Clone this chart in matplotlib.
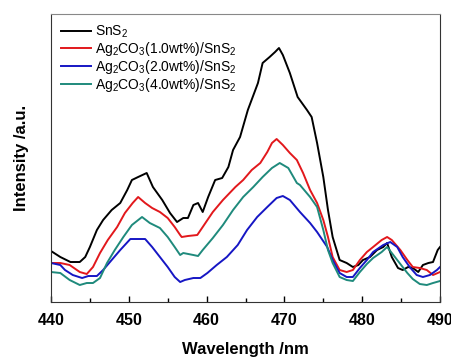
import numpy as np
import matplotlib
matplotlib.use("Agg")
import matplotlib.pyplot as plt
from matplotlib.ticker import MultipleLocator

plt.rcParams["font.family"] = ["Liberation Sans", "DejaVu Sans"]
plt.rcParams["mathtext.fontset"] = "custom"
plt.rcParams["mathtext.rm"] = "Liberation Sans"
plt.rcParams["mathtext.it"] = "Liberation Sans:italic"
plt.rcParams["mathtext.bf"] = "Liberation Sans:bold"

# ── data (intensity in arbitrary units) ─────────────────────────────────────
wl_sns2 = [440.0, 441.2, 442.5, 443.7, 444.4, 445.0, 445.9, 446.7, 447.8, 448.9,
           449.8, 450.4, 451.2, 452.3, 453.1, 454.3, 455.3, 456.2, 457.0, 457.6,
           458.3, 458.9, 459.5, 460.2, 461.1, 462.0, 462.8, 463.4, 464.3, 465.3,
           466.6, 467.2, 468.1, 468.8, 469.3, 469.8, 470.7, 471.7, 472.9, 473.5,
           474.2, 475.0, 475.6, 476.2, 477.1, 478.0, 478.8, 479.5, 480.1, 481.0,
           481.9, 482.7, 483.2, 483.8, 484.6, 485.2, 485.9, 486.5, 487.2, 487.8,
           488.5, 489.1, 489.7, 490.0]
int_sns2 = [51, 45, 40, 40, 45, 55, 72, 82, 92, 99,
            112, 122, 125, 129, 115, 102, 89, 80, 84, 84,
            97, 99, 90, 105, 122, 124, 135, 152, 165, 192,
            219, 239, 245, 250, 254, 247, 229, 205, 192, 185,
            159, 125, 92, 65, 42, 39, 35, 37, 42, 45,
            52, 55, 59, 45, 34, 32, 35, 34, 30, 37,
            39, 40, 52, 55]

wl_ag1 = [440.0, 441.2, 442.4, 443.7, 444.6, 445.4, 446.3, 447.3, 448.5, 449.5,
          450.5, 451.2, 452.1, 453.0, 454.0, 455.0, 455.9, 456.6, 456.8, 457.6,
          458.8, 459.5, 460.8, 462.1, 463.7, 464.7, 465.8, 466.9, 467.8, 468.4,
          469.0, 469.8, 470.7, 471.6, 472.4, 473.3, 474.2, 475.0, 475.6, 476.2,
          477.1, 478.0, 478.8, 479.7, 480.6, 481.4, 482.5, 483.2, 483.8, 484.9,
          485.8, 486.5, 487.4, 488.3, 489.1, 490.0]
int_ag1 = [39, 39, 37, 30, 28, 35, 49, 62, 75, 89,
           99, 105, 99, 94, 90, 84, 75, 67, 65, 66,
           67, 75, 90, 102, 115, 122, 132, 139, 150, 159,
           163, 157, 149, 142, 129, 112, 99, 82, 65, 45,
           32, 30, 32, 42, 50, 55, 62, 65, 62, 52,
           42, 35, 34, 32, 27, 30]

wl_ag2 = [440.0, 441.2, 441.8, 442.8, 444.0, 444.8, 445.9, 446.7, 447.8, 448.9,
          450.2, 451.1, 452.1, 453.0, 454.0, 455.0, 455.9, 456.6, 457.2, 458.3,
          459.2, 460.1, 461.3, 462.6, 464.0, 465.2, 466.5, 467.8, 469.0, 469.8,
          470.7, 472.0, 473.3, 474.2, 475.5, 476.2, 477.1, 478.0, 478.8, 479.7,
          480.6, 481.4, 482.7, 483.6, 484.5, 485.2, 486.1, 487.0, 487.8, 488.7,
          489.6, 490.0]
int_ag2 = [39, 37, 32, 27, 24, 26, 26, 32, 42, 52,
           63, 63, 63, 55, 45, 35, 25, 20, 22, 24,
           24, 29, 37, 45, 57, 72, 85, 95, 104, 106,
           102, 90, 79, 70, 55, 42, 29, 25, 25, 34,
           42, 50, 57, 60, 55, 45, 35, 27, 25, 27,
           32, 35]

wl_ag4 = [440.0, 441.2, 442.4, 443.7, 444.6, 445.4, 446.3, 447.2, 448.2, 449.3,
          450.4, 451.7, 452.7, 454.0, 455.0, 455.9, 456.6, 457.0, 458.3, 458.9,
          459.5, 460.8, 462.1, 463.4, 464.7, 466.0, 467.2, 468.4, 469.4, 470.5,
          471.6, 472.0, 473.3, 474.2, 475.0, 475.6, 476.2, 477.1, 478.0, 478.8,
          479.7, 480.6, 481.4, 482.5, 483.2, 483.8, 484.9, 485.8, 486.5, 487.4,
          488.3, 489.1, 490.0]
int_ag4 = [30, 29, 22, 17, 19, 19, 24, 39, 52, 65,
           77, 85, 79, 74, 65, 55, 47, 49, 47, 46,
           52, 64, 77, 92, 105, 115, 125, 134, 139, 134,
           119, 117, 105, 95, 72, 52, 39, 25, 22, 21,
           30, 38, 44, 50, 55, 49, 38, 29, 23, 18,
           17, 19, 21]

labels = ["SnS$_2$",
          "Ag$_2$CO$_3$(1.0wt%)/SnS$_2$",
          "Ag$_2$CO$_3$(2.0wt%)/SnS$_2$",
          "Ag$_2$CO$_3$(4.0wt%)/SnS$_2$"]
colors = ["#000000", "#e2181c", "#1616c4", "#1f8a7c"]

# ── figure ──────────────────────────────────────────────────────────────────
fig = plt.figure(figsize=(4.52, 3.58), dpi=100)
ax = fig.add_axes([0.1128, 0.1564, 0.8607, 0.8045])

series = [(wl_sns2, int_sns2), (wl_ag1, int_ag1), (wl_ag2, int_ag2), (wl_ag4, int_ag4)]
for (x, y), c, lab in zip(series, colors, labels):
    ax.plot(x, y, color=c, linewidth=1.4, label=lab)

ax.set_xlim(440, 490)
ax.set_ylim(0, 288)
ax.xaxis.set_major_locator(MultipleLocator(10))
ax.xaxis.set_minor_locator(MultipleLocator(5))
ax.tick_params(axis="x", which="major", direction="in", length=4, width=1,
               labelsize=11.5, pad=8)
ax.tick_params(axis="x", which="minor", direction="in", length=3, width=1)
ax.set_yticks([])
for t in ax.get_xticklabels():
    t.set_fontweight("bold")

ax.spines["top"].set_color("#888888")
for s in ["left", "right", "bottom"]:
    ax.spines[s].set_color("#333333")

ax.set_xlabel("Wavelength /nm", fontsize=12, fontweight="bold", labelpad=10)
ax.set_ylabel("Intensity /a.u.", fontsize=12, fontweight="bold", labelpad=16)

ax.legend(loc="upper left", frameon=False, fontsize=10, handlelength=2.2,
          handletextpad=0.3, labelspacing=0.0, borderaxespad=0.3,
          bbox_to_anchor=(0.0, 1.0))

fig.savefig("out.png", dpi=100)
